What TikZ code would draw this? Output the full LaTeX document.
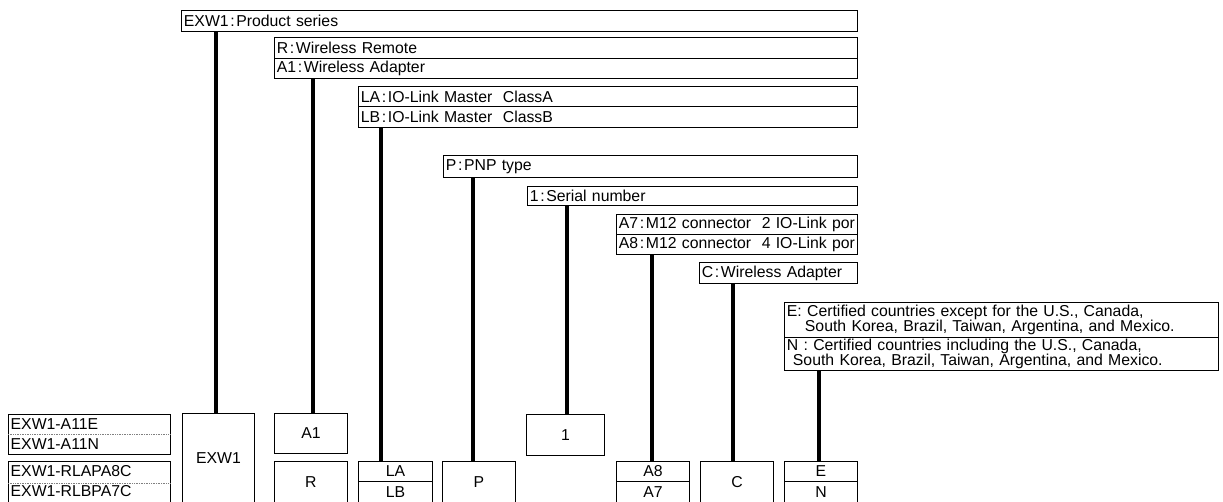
\documentclass[tikz,border=0pt]{standalone}
\usepackage{fontspec}
\setmainfont{Liberation Sans}
\newcommand\mycolon{\kern1.6pt:\kern1.6pt}
\begin{document}
\begin{tikzpicture}[x=1pt,y=-1pt,
  every node/.style={font=\fontsize{15.8}{16.5}\selectfont},
  descbox/.style={draw, line width=0.9pt, inner xsep=2.5pt, inner ysep=0pt,
    anchor=north west, align=left, minimum height=#1},
  descbox/.default=20,
  twoline/.style={font=\fontsize{15.8}{15}\selectfont},
  codebox/.style={draw, line width=0.9pt, inner sep=0pt, anchor=north west,
    align=center},
  stem/.style={line width=4pt},
  listtext/.style={anchor=west, inner xsep=2.5pt, inner ysep=0pt}]
\useasboundingbox (0,0) rectangle (1223,501);
% description rows
\node[descbox=21, text width=671] (dexw1) at (181,10) {EXW1\mycolon Product series};
\node[descbox=21, text width=578] (dr) at (274,37) {R\mycolon Wireless Remote};
\node[descbox=20, text width=578] (da1) at (274,58) {A1\mycolon Wireless Adapter};
\node[descbox=20, text width=494] (dla) at (358,86) {LA\mycolon IO-Link Master\ \ ClassA};
\node[descbox=21, text width=494] (dlb) at (358,106) {LB\mycolon IO-Link Master\ \ ClassB};
\node[descbox=22, text width=409] (dp) at (443,155) {P\mycolon PNP type};
\node[descbox=19, text width=325] (d1) at (527,186) {1\mycolon Serial number};
\node[descbox=20, text width=236] (da7) at (616,214) {A7\mycolon M12 connector\ \ 2 IO-Link por};
\node[descbox=20, text width=236] (da8) at (616,234) {A8\mycolon M12 connector\ \ 4 IO-Link por};
\node[descbox=21, text width=153] (dc) at (699,262) {C\mycolon Wireless Adapter};
\node[descbox=35, twoline, text width=429] (de) at (784,302) {E: Certified countries except for the U.S., Canada,\\\hspace*{18pt}South Korea, Brazil, Taiwan, Argentina, and Mexico.};
\node[descbox=33, twoline, text width=429] (dn) at (784,337) {N : Certified countries including the U.S., Canada,\\\hspace*{6pt}South Korea, Brazil, Taiwan, Argentina, and Mexico.};
% code boxes
\node[codebox, minimum width=72, minimum height=90] (cexw1) at (182,413) {EXW1};
\node[codebox, minimum width=73, minimum height=40] (ca1) at (274,413) {A1};
\node[codebox, minimum width=73, minimum height=42] (cr) at (274,461) {R};
\node[codebox, minimum width=74, minimum height=20] (cla) at (358,461) {LA};
\node[codebox, minimum width=74, minimum height=22] (clb) at (358,481) {LB};
\node[codebox, minimum width=73, minimum height=42] (cp) at (442,461) {P};
\node[codebox, minimum width=78, minimum height=41] (c1) at (526,414) {1};
\node[codebox, minimum width=73, minimum height=20] (ca8) at (616,461) {A8};
\node[codebox, minimum width=73, minimum height=22] (ca7) at (616,481) {A7};
\node[codebox, minimum width=73, minimum height=42] (cc) at (700,461) {C};
\node[codebox, minimum width=73, minimum height=20] (ce) at (784,461) {E};
\node[codebox, minimum width=73, minimum height=22] (cn) at (784,481) {N};
% model list
\node[codebox, minimum width=162, minimum height=40] (l1) at (8,414) {};
\node[codebox, minimum width=162, minimum height=42] (l2) at (8,461) {};
\draw[line width=0.7pt, densely dotted, gray] (l1.west) -- (l1.east);
\draw[line width=0.7pt, densely dotted, gray] ([yshift=-1pt]l2.west) -- ([yshift=-1pt]l2.east);
\node[listtext] (m1) at (8,424) {EXW1-A11E};
\node[listtext] (m2) at (8,444) {EXW1-A11N};
\node[listtext] (m3) at (8,471) {EXW1-RLAPA8C};
\node[listtext] (m4) at (8,491) {EXW1-RLBPA7C};
% stems
\coordinate (s1) at (216,0);
\coordinate (s2) at (313,0);
\coordinate (s3) at (381,0);
\coordinate (s4) at (473,0);
\coordinate (s5) at (567,0);
\coordinate (s6) at (652,0);
\coordinate (s7) at (733,0);
\coordinate (s8) at (819,0);
\draw[stem] (dexw1.south -| s1) -- (cexw1.north -| s1);
\draw[stem] (da1.south -| s2) -- (ca1.north -| s2);
\draw[stem] (dlb.south -| s3) -- (cla.north -| s3);
\draw[stem] (dp.south -| s4) -- (cp.north -| s4);
\draw[stem] (d1.south -| s5) -- (c1.north -| s5);
\draw[stem] (da8.south -| s6) -- (ca8.north -| s6);
\draw[stem] (dc.south -| s7) -- (cc.north -| s7);
\draw[stem] (dn.south -| s8) -- (ce.north -| s8);
\end{tikzpicture}
\end{document}
